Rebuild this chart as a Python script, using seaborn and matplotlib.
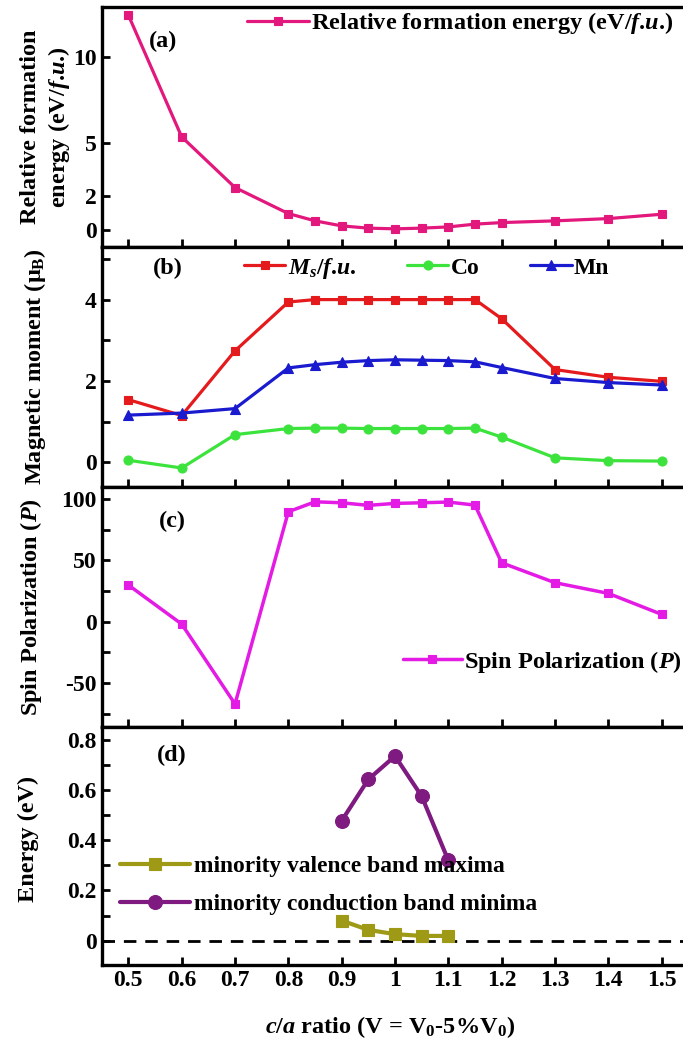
import numpy as np
import pandas as pd
import matplotlib
matplotlib.use("Agg")
import matplotlib.pyplot as plt
import seaborn as sns
from matplotlib.ticker import FixedLocator, FuncFormatter

# ---------------- data ----------------
ca_ratio = [0.5, 0.6, 0.7, 0.8, 0.85, 0.9, 0.95, 1.0, 1.05, 1.1, 1.15, 1.2, 1.3, 1.4, 1.5]
rel_form_energy = [12.4, 5.38, 2.46, 0.96, 0.54, 0.25, 0.12, 0.08, 0.12, 0.19, 0.35, 0.44, 0.54, 0.67, 0.92]
ms_fu = [1.54, 1.15, 2.74, 3.94, 4.0, 4.0, 4.0, 4.0, 4.0, 4.0, 4.0, 3.53, 2.28, 2.09, 1.99]
co_moment = [0.05, -0.14, 0.68, 0.83, 0.84, 0.84, 0.83, 0.83, 0.83, 0.83, 0.84, 0.62, 0.11, 0.04, 0.03]
mn_moment = [1.16, 1.21, 1.32, 2.32, 2.40, 2.46, 2.50, 2.52, 2.51, 2.50, 2.47, 2.33, 2.06, 1.96, 1.90]
spin_pol = [29.9, -1.9, -67.0, 89.6, 97.7, 96.9, 94.8, 96.4, 96.9, 97.5, 95.0, 48.0, 31.8, 23.1, 6.0]

ca_ratio_d = [0.9, 0.95, 1.0, 1.05, 1.1]
vbm = [0.08, 0.043, 0.026, 0.019, 0.019]
cbm = [0.478, 0.643, 0.736, 0.576, 0.32]

x_ticks = [0.5, 0.6, 0.7, 0.8, 0.9, 1.0, 1.1, 1.2, 1.3, 1.4, 1.5]
x_tick_labels = ["0.5", "0.6", "0.7", "0.8", "0.9", "1", "1.1", "1.2", "1.3", "1.4", "1.5"]

# ---------------- style ----------------
sns.set_theme(style="ticks")
plt.rcParams["font.family"] = ["Liberation Serif", "DejaVu Serif"]
plt.rcParams["font.weight"] = "bold"
plt.rcParams["axes.labelweight"] = "bold"
plt.rcParams["text.color"] = "black"
plt.rcParams["axes.labelcolor"] = "black"
plt.rcParams["xtick.color"] = "black"
plt.rcParams["ytick.color"] = "black"
plt.rcParams["mathtext.fontset"] = "custom"
plt.rcParams["mathtext.rm"] = "Liberation Serif:bold"
plt.rcParams["mathtext.it"] = "Liberation Serif:italic:bold"
plt.rcParams["mathtext.bf"] = "Liberation Serif:bold"

W, H = 683, 1042
FS_TICK = 17
FS_LAB = 17.5
FS_LEG = 17.5
fig = plt.figure(figsize=(W / 100, H / 100), dpi=100)
L, R = 101.7, 688.3


def make_ax(top, bottom):
    ax = fig.add_axes([L / W, 1 - bottom / H, (R - L) / W, (bottom - top) / H])
    for s in ax.spines.values():
        s.set_linewidth(2.4)
        s.set_color("black")
    ax.tick_params(axis="both", which="both", direction="in", width=2, colors="black",
                   labelsize=FS_TICK, top=False, right=False)
    ax.tick_params(axis="both", which="major", length=5.5)
    ax.tick_params(axis="y", which="minor", length=5.5)
    ax.set_xlim(0.45, 1.55)
    ax.xaxis.set_major_locator(FixedLocator(x_ticks))
    ax.set_xticklabels(x_tick_labels)
    ax.yaxis.set_major_formatter(FuncFormatter(lambda v, p: f"{v:g}"))
    ax.set_facecolor("white")
    return ax


ax_a = make_ax(7.3, 246.7)
ax_b = make_ax(246.7, 486.7)
ax_c = make_ax(486.7, 726.7)
ax_d = make_ax(726.7, 965.0)

for ax in (ax_a, ax_b, ax_c):
    ax.tick_params(axis="x", labelbottom=False)


def line(ax, x, y, color, marker, ms, lw, label):
    sns.lineplot(x=x, y=y, ax=ax, color=color, marker=marker, markersize=ms,
                 markeredgecolor=color, markeredgewidth=0.8, linewidth=lw,
                 label=label, sort=False, estimator=None)


FU = r"$\mathit{f}$.$\mathit{u}$."

# ---- (a) ----
c_a = "#E3187C"
line(ax_a, ca_ratio, rel_form_energy, c_a, "s", 5.5, 2.3,
     "Relative formation energy (eV/" + FU + ")")
ax_a.set_ylim(-0.95, 12.85)
ax_a.yaxis.set_major_locator(FixedLocator([0, 2, 5, 10]))
ax_a.set_ylabel("Relative formation\nenergy (eV/" + FU + ")", fontsize=FS_LAB, linespacing=1.25)
ax_a.yaxis.set_label_coords(-0.0506, 0.5)
ax_a.legend(loc="center left", bbox_to_anchor=(0.2477, 0.934), frameon=False, borderpad=0,
            borderaxespad=0, handlelength=2.55, handletextpad=0.1, fontsize=FS_LEG)
ax_a.text(0.1045, 0.856, "(a)", transform=ax_a.transAxes, ha="center", va="center", fontsize=FS_LEG)

# ---- (b) ----
line(ax_b, ca_ratio, ms_fu, "#E41A1C", "s", 6, 2.3, r"$M_s$/" + FU)
line(ax_b, ca_ratio, co_moment, "#3DE33D", "o", 6.5, 2.3, "Co")
line(ax_b, ca_ratio, mn_moment, "#1A1ACF", "^", 6.5, 2.3, "Mn")
ax_b.set_ylim(-0.6, 5.3)
ax_b.yaxis.set_major_locator(FixedLocator([0, 2, 4]))
ax_b.yaxis.set_minor_locator(FixedLocator([1, 3, 5]))
ax_b.set_ylabel("Magnetic moment (μ$_\\mathrm{B}$)", fontsize=FS_LAB)
ax_b.yaxis.set_label_coords(-0.0916, 0.5)
ax_b.legend(loc="center left", bbox_to_anchor=(0.2426, 0.911), frameon=False, borderpad=0,
            borderaxespad=0, handlelength=1.75, handletextpad=0.1, fontsize=FS_LEG - 0.5, ncol=3,
            columnspacing=2.15)
ax_b.text(0.113, 0.911, "(b)", transform=ax_b.transAxes, ha="center", va="center", fontsize=FS_LEG)

# ---- (c) ----
line(ax_c, ca_ratio, spin_pol, "#E41BE4", "s", 6, 2.5, r"Spin Polarization ($\mathit{P}$)")
ax_c.set_ylim(-85.5, 110)
ax_c.yaxis.set_major_locator(FixedLocator([-50, 0, 50, 100]))
ax_c.yaxis.set_minor_locator(FixedLocator([-75, -25, 25, 75]))
ax_c.set_ylabel(r"Spin Polarization ($\mathit{P}$)", fontsize=FS_LAB)
ax_c.yaxis.set_label_coords(-0.099, 0.5)
ax_c.legend(loc="center left", bbox_to_anchor=(0.514, 0.271), frameon=False, borderpad=0,
            borderaxespad=0, handlelength=2.4, handletextpad=0.1, fontsize=FS_LEG)
ax_c.text(0.12, 0.854, "(c)", transform=ax_c.transAxes, ha="center", va="center", fontsize=FS_LEG)

# ---- (d) ----
ax_d.axhline(0, color="black", linestyle=(0, (4.5, 3.2)), linewidth=2)
line(ax_d, ca_ratio_d, vbm, "#9E9A16", "s", 9, 3, "minority valence band maxima")
line(ax_d, ca_ratio_d, cbm, "#7E1A80", "o", 10, 3, "minority conduction band minima")
ax_d.set_ylim(-0.097, 0.853)
ax_d.yaxis.set_major_locator(FixedLocator([0, 0.2, 0.4, 0.6, 0.8]))
ax_d.yaxis.set_minor_locator(FixedLocator([0.1, 0.3, 0.5, 0.7]))
ax_d.set_ylabel("Energy (eV)", fontsize=FS_LAB)
ax_d.yaxis.set_label_coords(-0.107, 0.53)
ax_d.legend(loc="center left", bbox_to_anchor=(0.0312, 0.335), frameon=False, borderpad=0,
            borderaxespad=0, handlelength=3.0, handletextpad=0.15, fontsize=16.9, labelspacing=0.72)
ax_d.text(0.12, 0.881, "(d)", transform=ax_d.transAxes, ha="center", va="center", fontsize=FS_LEG)
ax_d.set_xlabel(r"$\mathit{c/a}$ ratio (V = V$_0$-5%V$_0$)", fontsize=FS_LAB)
ax_d.xaxis.set_label_coords(0.4915, -0.205)

fig.savefig("out.png", dpi=100, facecolor="white")
